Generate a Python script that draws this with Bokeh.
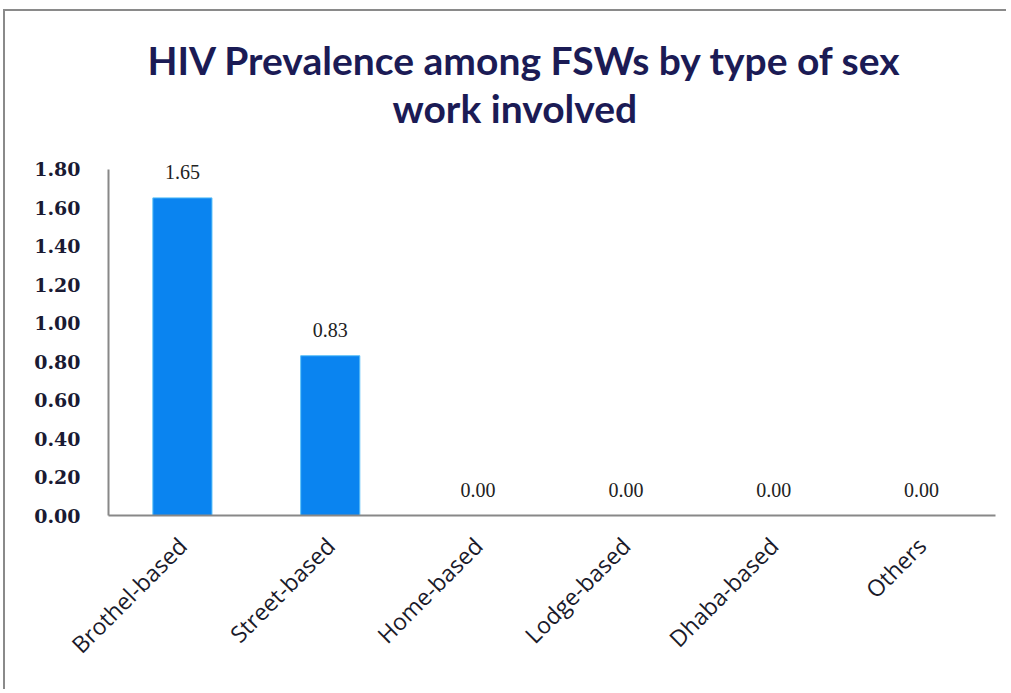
from bokeh.plotting import figure
from bokeh.models import ColumnDataSource, FixedTicker, NumeralTickFormatter, LabelSet, FactorRange, Title
from bokeh.embed import file_html
from bokeh.resources import INLINE
import math

categories = ["Brothel-based", "Street-based", "Home-based", "Lodge-based", "Dhaba-based", "Others"]
prevalence = [1.65, 0.83, 0.00, 0.00, 0.00, 0.00]
y_ticks = [0.0, 0.2, 0.4, 0.6, 0.8, 1.0, 1.2, 1.4, 1.6, 1.8]
title_lines = ["HIV Prevalence among FSWs by type of sex", "work involved"]

W, H = 1003, 680
src = ColumnDataSource(dict(cat=categories, val=prevalence,
                            lbl=["%.2f" % v for v in prevalence]))

p = figure(x_range=FactorRange(*categories, range_padding=0), y_range=(0, 2.0),
           width=W, height=H, output_backend="svg", toolbar_location=None,
           min_border_left=103, min_border_right=13, min_border_top=119, min_border_bottom=176)
p.outline_line_color = None
p.grid.grid_line_color = None
p.background_fill_color = "white"
p.border_fill_color = "white"
p.styles = {"border-left": "2px solid #8a8a8a", "border-top": "2px solid #8a8a8a",
            "margin-left": "3px", "margin-top": "9px"}

p.vbar(x="cat", top="val", width=0.4, source=src, fill_color="#0A84F0", line_color="#5BC0F8", line_width=1)
p.add_layout(LabelSet(x="cat", y="val", text="lbl", source=src, text_align="center",
                      text_baseline="bottom", y_offset=19, text_font="DejaVu Serif",
                      text_font_size="20px", text_color="#222222"))

p.yaxis.ticker = FixedTicker(ticks=y_ticks)
p.yaxis.bounds = (0, 1.8)
p.yaxis.formatter = NumeralTickFormatter(format="0.00")
p.yaxis.major_label_text_font = "DejaVu Serif"
p.yaxis.major_label_text_font_style = "bold"
p.yaxis.major_label_text_font_size = "19px"
p.yaxis.major_label_text_color = "#1a1a33"
p.yaxis.major_label_standoff = 22
p.axis.major_tick_line_color = None
p.axis.minor_tick_line_color = None
p.axis.axis_line_color = "#888888"
p.axis.axis_line_width = 2

p.xaxis.major_label_orientation = math.pi / 4
p.xaxis.major_label_text_font = "Open Sans"
p.xaxis.major_label_text_font_size = "23px"
p.xaxis.major_label_text_color = "#1a1a2a"
p.xaxis.major_label_standoff = 20

p.add_layout(Title(text=title_lines[1], align="left", offset=284, standoff=0,
                   text_font="Lato", text_font_style="bold", text_font_size="39px",
                   text_color="#1b1b55"), "above")
p.add_layout(Title(text=title_lines[0], align="left", offset=39, standoff=0,
                   text_font="Lato", text_font_style="bold", text_font_size="39px",
                   text_color="#1b1b55"), "above")

open("out.html", "w").write(file_html(p, INLINE))
